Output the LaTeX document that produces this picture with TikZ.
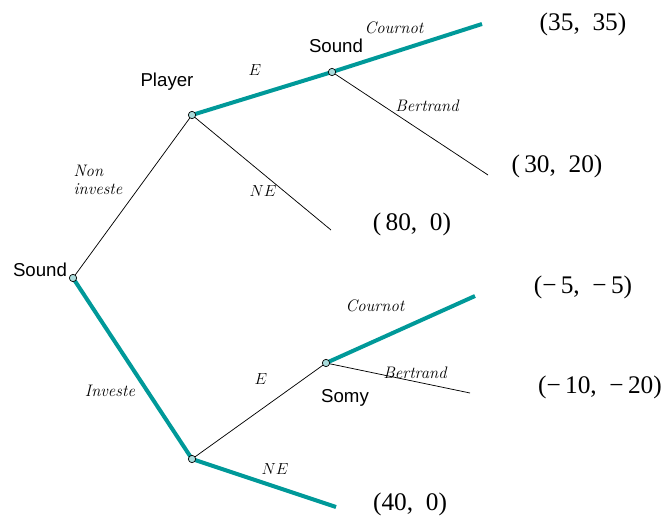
\documentclass[tikz,border=0pt]{standalone}
\usepackage{fontspec}
\setsansfont{Liberation Sans}
\newfontfamily\payfont{Liberation Serif}
\definecolor{teal1}{RGB}{0,153,153}
\definecolor{dotfill}{RGB}{170,220,220}
\begin{document}
\begin{tikzpicture}[x=0.75pt, y=-0.75pt,
	point/.style = {draw, circle, fill = dotfill, inner sep = 0pt, minimum size = 5.5pt, line width = 0.5pt},
	branch/.style = {black, line width = 0.55pt},
	best/.style = {teal1, line width = 3pt},
	player/.style = {font = \sffamily\fontsize{14}{16}\selectfont},
	act/.style = {font = \fontsize{12.5}{14}\selectfont\itshape},
	payoff/.style = {font = \payfont\fontsize{19}{21}\selectfont}]
				\useasboundingbox (0,0) rectangle (670,523);
				% end points of the tree
				\coordinate (cU) at (482, 24);
				\coordinate (bU) at (488, 175);
				\coordinate (neU) at (331, 230);
				\coordinate (cL) at (475, 296);
				\coordinate (bL) at (470, 393);
				\coordinate (neL) at (336, 507);
				% branches
				\draw[branch] (73, 278) -- (192, 115);
				\draw[branch] (192, 115) -- (neU);
				\draw[branch] (332, 72) -- (bU);
				\draw[branch] (192, 459) -- (326, 363);
				\draw[branch] (326, 363) -- (bL);
				\draw[best] (192, 115) -- (332, 72) -- (cU);
				\draw[best] (73, 278) -- (192, 459) -- (neL);
				\draw[best] (326, 363) -- (cL);
				% decision nodes
				\node (root) at (73, 278) [point] {};
				\node (pl) at (192, 115) [point] {};
				\node (su) at (332, 72) [point] {};
				\node (inv) at (192, 459) [point] {};
				\node (so) at (326, 363) [point] {};
				% players
				\node[player] (rootL) at (40, 270) {Sound};
				\node[player] (plL) at (167, 82) {Player};
				\node[player] (suL) at (336, 46) {Sound};
				\node[player] (soL) at (345, 398) {Somy};
				% actions
				\node[act, align=left] (nonL) at (98, 180) {Non\\investe};
				\node[act] (invL) at (110, 391) {Investe};
				\node (eU) at (255, 70) {\fontsize{12.5}{14}\selectfont$E$};
				\node (neUL) at (263, 191) {\fontsize{12.5}{14}\selectfont$NE$};
				\node (eL) at (261, 379) {\fontsize{12.5}{14}\selectfont$E$};
				\node (neLL) at (275, 469) {\fontsize{12.5}{14}\selectfont$NE$};
				\node[act] (cUL) at (394, 28) {Cournot};
				\node[act] (bUL) at (427, 106) {Bertrand};
				\node[act] (cLL) at (375, 306) {Cournot};
				\node[act] (bLL) at (415, 373) {Bertrand};
				% payoffs
				\node[payoff] (p1) at (583, 24) {(35,\ \ 35)};
				\node[payoff] (p2) at (557, 166) {(\,30,\ \ 20)};
				\node[payoff] (p3) at (412, 224) {(\,80,\ \ 0)};
				\node[payoff] (p4) at (583, 287) {(−\,5,\ \ −\,5)};
				\node[payoff] (p5) at (600, 387) {(−\,10,\ \ −\,20)};
				\node[payoff] (p6) at (410, 504) {(40,\ \ 0)};
\end{tikzpicture}
\end{document}
